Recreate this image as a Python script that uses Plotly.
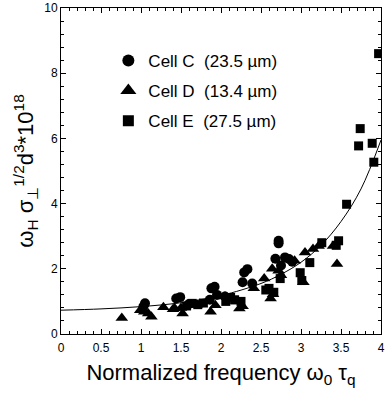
import plotly.graph_objects as go

# Cell C (circles)
c_x = [1.05, 1.03, 1.44, 1.49, 1.6, 1.86, 1.88, 1.92, 1.95, 2.05, 2.27, 2.29, 2.33, 2.39, 2.68, 2.72, 2.72, 2.75, 2.8, 2.85, 2.89]
c_y = [0.94, 0.84, 1.09, 1.13, 0.92, 1.05, 1.40, 1.45, 1.20, 1.15, 1.59, 1.89, 1.99, 1.55, 2.31, 2.78, 2.86, 2.10, 2.35, 2.30, 2.22]

# Cell D (triangles)
d_x = [0.76, 0.99, 1.04, 1.09, 1.13, 1.28, 1.40, 1.42, 1.50, 1.52, 1.70, 1.87, 1.93, 2.05, 2.20, 2.23, 2.27, 2.41, 2.54, 2.62, 2.64, 2.65, 2.72, 2.75, 2.92, 3.03, 3.05, 3.15, 3.22, 3.40, 3.45]
d_y = [0.49, 0.73, 0.68, 0.63, 0.53, 0.82, 0.76, 0.79, 0.80, 0.63, 0.90, 0.68, 0.88, 1.15, 1.00, 0.78, 0.85, 1.40, 1.70, 1.09, 2.00, 1.22, 1.94, 1.80, 2.25, 1.59, 2.50, 2.61, 2.70, 2.70, 2.15]

# Cell E (squares)
e_x = [1.57, 1.64, 1.71, 1.78, 2.06, 2.12, 2.17, 2.25, 2.56, 2.60, 2.66, 2.74, 2.99, 3.01, 3.11, 3.26, 3.44, 3.47, 3.57, 3.72, 3.74, 3.89, 3.91, 3.97]
e_y = [0.86, 0.94, 0.90, 0.95, 1.00, 1.12, 1.05, 1.00, 1.35, 1.40, 1.28, 1.70, 1.88, 1.64, 2.19, 2.80, 2.72, 2.86, 3.98, 5.77, 6.30, 5.85, 5.27, 8.60]

# Fitted curve
fit_x = [0, 0.5, 1, 1.5, 2, 2.5, 2.75, 3, 3.25, 3.5, 3.75, 4]
fit_y = [0.73, 0.77, 0.84, 0.96, 1.18, 1.55, 1.83, 2.2, 2.72, 3.45, 4.45, 5.95]

x_ticks = [0, 0.5, 1, 1.5, 2, 2.5, 3, 3.5, 4]
x_labels = ["0", "0.5", "1", "1.5", "2", "2.5", "3", "3.5", "4"]
y_ticks = [0, 2, 4, 6, 8, 10]
y_labels = ["0", "2", "4", "6", "8", "10"]

legend_names = ["Cell C  (23.5 \u00b5m)", "Cell D  (13.4 \u00b5m)", "Cell E  (27.5 \u00b5m)"]

FONT = "Arial, Liberation Sans, sans-serif"

fig = go.Figure()
fig.add_trace(go.Scatter(x=fit_x, y=fit_y, mode="lines", line=dict(color="black", width=1, shape="spline"),
                         showlegend=False, hoverinfo="skip"))
fig.add_trace(go.Scatter(x=c_x, y=c_y, mode="markers", marker=dict(symbol="circle", size=10, color="black"),
                         showlegend=False))
fig.add_trace(go.Scatter(x=d_x, y=d_y, mode="markers", marker=dict(symbol="triangle-up", size=11, color="black"),
                         showlegend=False))
fig.add_trace(go.Scatter(x=e_x, y=e_y, mode="markers", marker=dict(symbol="square", size=9, color="black"),
                         showlegend=False))

# legend entries
for name, sym, sz, g in zip(legend_names, ["circle", "triangle-up", "square"], [12, 14, 11], ["a", "b", "c"]):
    fig.add_trace(go.Scatter(x=[None], y=[None], mode="markers", name=name, legendgroup=g,
                             marker=dict(symbol=sym, size=sz, color="black")))

axis_common = dict(
    showline=True, linecolor="black", linewidth=1, mirror="allticks",
    ticks="inside", ticklen=5, tickcolor="black", tickwidth=1,
    showgrid=False, zeroline=False, ticklabeloverflow="allow",
    tickfont=dict(family=FONT, size=12, color="black"),
)

fig.update_xaxes(range=[0, 4], tickvals=x_ticks, ticktext=x_labels, ticklabelstandoff=3,
                 minor=dict(dtick=0.1, ticks="inside", ticklen=3, tickcolor="black", showgrid=False),
                 title=dict(text="Normalized frequency \u03c9<sub>0</sub> \u03c4<sub>q</sub>",
                            font=dict(family=FONT, size=22, color="black"), standoff=10),
                 **axis_common)
fig.update_yaxes(range=[0, 10], tickvals=y_ticks, ticktext=y_labels,
                 minor=dict(dtick=0.4, ticks="inside", ticklen=3, tickcolor="black", showgrid=False),
                 title=dict(text="\u03c9<sub>H</sub> \u03c3<sub>\u22a5</sub><sup>1/2</sup>d<sup>3</sup>*10<sup>18</sup>",
                            font=dict(family=FONT, size=22, color="black"), standoff=4),
                 **axis_common)

fig.update_layout(
    width=386, height=398,
    margin=dict(l=61, r=1, t=5, b=64),
    plot_bgcolor="white", paper_bgcolor="white",
    legend=dict(x=0.148, y=0.893, xanchor="left", yanchor="top", bgcolor="rgba(0,0,0,0)",
                font=dict(family=FONT, size=17, color="black"), traceorder="grouped", tracegroupgap=5),
    font=dict(family=FONT, color="black"),
)

fig.write_html("out.html")
